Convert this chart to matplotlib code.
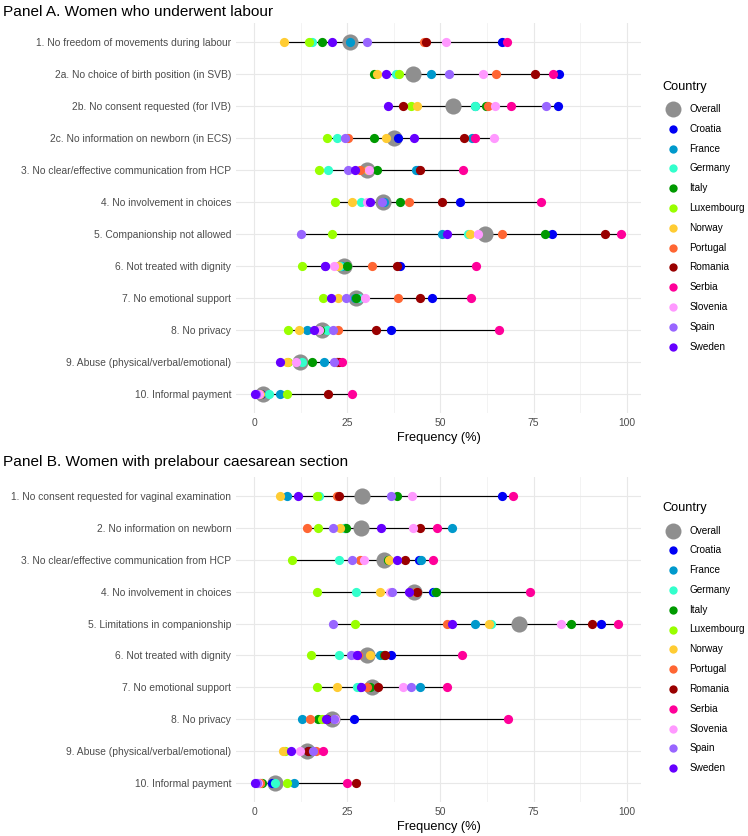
import numpy as np
import matplotlib
matplotlib.use("Agg")
import matplotlib.pyplot as plt
from matplotlib.lines import Line2D

plt.rcParams['font.family'] = ['Liberation Sans', 'DejaVu Sans']

# ---------------- data ----------------
countries = ["Overall", "Croatia", "France", "Germany", "Italy", "Luxembourg", "Norway",
             "Portugal", "Romania", "Serbia", "Slovenia", "Spain", "Sweden"]
colors = ["#8f8f8f", "#0000f5", "#0099cc", "#33ffcc", "#009900", "#99ff00", "#ffcc33",
          "#ff6633", "#990000", "#ff0099", "#ff99ff", "#9966ff", "#6600ff"]

labels_a = [
    "1. No freedom of movements during labour",
    "2a. No choice of birth position (in SVB)",
    "2b. No consent requested (for IVB)",
    "2c. No information on newborn (in ECS)",
    "3. No clear/effective communication from HCP",
    "4. No involvement in choices",
    "5. Companionship not allowed",
    "6. Not treated with dignity",
    "7. No emotional support",
    "8. No privacy",
    "9. Abuse (physical/verbal/emotional)",
    "10. Informal payment",
]
overall_a    = [25.7, 42.6, 53.4, 37.5, 30.3, 34.6, 62.0, 24.0, 27.2, 18.3, 12.4, 2.4]
croatia_a    = [66.6, 81.8, 81.6, 38.6, 43.9, 55.3, 79.9, 39.1, 47.6, 36.7, 22.3, 1.8]
france_a     = [25.7, 47.5, 59.2, 58.5, 43.5, 34.8, 50.5, 23.5, 27.0, 14.2, 18.6, 6.9]
germany_a    = [15.6, 38.0, 59.4, 22.2, 19.7, 28.6, 57.5, 23.0, 28.1, 19.6, 12.7, 4.0]
italy_a      = [18.1, 32.2, 62.1, 32.2, 32.9, 39.1, 78.2, 24.8, 27.4, 17.6, 15.4, 1.5]
luxembourg_a = [14.8, 38.9, 42.1, 19.6, 17.5, 21.8, 20.8, 12.9, 18.5, 9.0, 9.1, 8.8]
norway_a     = [7.9, 32.9, 43.7, 35.3, 30.5, 26.2, 57.9, 22.6, 22.6, 12.0, 8.7, 1.5]
portugal_a   = [45.7, 64.9, 62.8, 25.3, 28.4, 41.5, 66.6, 31.6, 38.7, 22.6, 22.3, 1.2]
romania_a    = [46.1, 75.3, 39.9, 56.3, 44.6, 50.3, 94.3, 38.4, 44.6, 32.6, 22.8, 19.8]
serbia_a     = [67.9, 80.3, 69.0, 59.4, 56.1, 76.9, 98.6, 59.6, 58.2, 65.7, 23.5, 26.2]
slovenia_a   = [51.5, 61.4, 64.7, 64.4, 30.7, 30.3, 60.2, 21.3, 29.7, 17.4, 11.2, 1.3]
spain_a      = [30.4, 52.2, 78.3, 24.4, 25.3, 34.3, 12.6, 18.9, 24.6, 21.1, 21.5, 0.5]
sweden_a     = [21.0, 35.5, 35.8, 42.8, 27.0, 31.2, 51.8, 18.9, 20.6, 16.0, 7.0, 0.2]

labels_b = [
    "1. No consent requested for vaginal examination",
    "2. No information on newborn",
    "3. No clear/effective communication from HCP",
    "4. No involvement in choices",
    "5. Limitations in companionship",
    "6. Not treated with dignity",
    "7. No emotional support",
    "8. No privacy",
    "9. Abuse (physical/verbal/emotional)",
    "10. Informal payment",
]
overall_b    = [28.9, 28.7, 34.8, 42.8, 71.2, 30.4, 31.5, 20.8, 14.1, 5.5]
croatia_b    = [66.5, 24.4, 44.3, 48.1, 93.0, 36.7, 28.4, 26.8, 14.5, 4.7]
france_b     = [8.7, 53.1, 44.7, 48.5, 59.4, 33.8, 44.6, 12.8, 15.0, 10.7]
germany_b    = [17.5, 24.1, 22.7, 27.2, 63.5, 22.7, 27.7, 19.5, 15.5, 5.5]
italy_b      = [38.4, 24.6, 36.0, 48.9, 85.1, 34.8, 31.0, 17.0, 15.0, 2.0]
luxembourg_b = [16.9, 17.0, 10.2, 16.9, 27.1, 15.3, 16.9, 18.1, 8.3, 8.7]
norway_b     = [7.0, 23.0, 36.2, 33.8, 63.0, 31.1, 22.1, 19.3, 7.8, 1.5]
portugal_b   = [22.1, 14.2, 28.5, 43.5, 51.7, 27.8, 30.2, 14.9, 16.7, 1.5]
romania_b    = [22.7, 44.6, 40.6, 43.8, 90.7, 35.1, 33.1, 19.6, 14.3, 27.3]
serbia_b     = [69.5, 49.2, 47.9, 74.1, 97.7, 55.8, 51.8, 68.1, 18.5, 25.0]
slovenia_b   = [42.4, 42.7, 29.5, 36.5, 82.4, 27.0, 40.0, 21.6, 12.3, 1.1]
spain_b      = [36.8, 21.1, 26.3, 36.9, 21.1, 26.1, 42.1, 21.4, 15.8, 0.8]
sweden_b     = [11.8, 33.9, 38.2, 41.5, 53.2, 27.6, 28.6, 19.2, 9.8, 0.1]

series_a = [overall_a, croatia_a, france_a, germany_a, italy_a, luxembourg_a, norway_a,
            portugal_a, romania_a, serbia_a, slovenia_a, spain_a, sweden_a]
series_b = [overall_b, croatia_b, france_b, germany_b, italy_b, luxembourg_b, norway_b,
            portugal_b, romania_b, serbia_b, slovenia_b, spain_b, sweden_b]

xticks = [0, 25, 50, 75, 100]

# ---------------- figure ----------------
W, H = 748, 836
fig = plt.figure(figsize=(W / 100, H / 100), dpi=100)


def px_axes(left, top, right, bottom):
    return fig.add_axes([left / W, 1 - bottom / H, (right - left) / W, (bottom - top) / H])


BASE = 9.2
TXT = "#4d4d4d"
GRID = "#e8e8e8"


def draw_panel(ax, labels, series):
    n = len(labels)
    ypos = np.arange(1, n + 1)
    data = np.array(series, dtype=float)
    lo = np.nanmin(data, axis=0)
    hi = np.nanmax(data, axis=0)
    ax.hlines(ypos, lo, hi, color="black", lw=0.85, zorder=2)
    for i, (name, col) in enumerate(zip(countries, colors)):
        s = 135 if name == "Overall" else 44
        ax.scatter(data[i], ypos, s=s, color=col, linewidths=0, zorder=3 + i)
    ax.set_xlim(-4.91, 103.85)
    ax.set_ylim(n + 0.6, 0.4)
    ax.set_yticks(ypos)
    ax.set_yticklabels(labels)
    ax.set_xticks(xticks)
    ax.set_xticklabels([str(t) for t in xticks])
    ax.set_xticks([12.5, 37.5, 62.5, 87.5], minor=True)
    ax.grid(True, which="major", color=GRID, lw=0.8, zorder=0)
    ax.grid(True, which="minor", axis="x", color="#f0f0f0", lw=0.55, zorder=0)
    ax.set_axisbelow(True)
    for sp in ax.spines.values():
        sp.set_visible(False)
    ax.tick_params(axis="both", which="both", length=0, labelsize=BASE * 0.8, labelcolor=TXT)
    ax.tick_params(axis="x", pad=3.6)
    ax.tick_params(axis="y", pad=3.4)
    ax.set_xlabel("Frequency (%)", fontsize=BASE, color="black", labelpad=3.0)


axA = px_axes(236, 23, 641, 413)
axB = px_axes(236, 477, 641, 802)
draw_panel(axA, labels_a, series_a)
draw_panel(axB, labels_b, series_b)

fig.text(3 / W, 1 - 11.5 / H, "Panel A. Women who underwent labour", fontsize=BASE * 1.2,
         ha="left", va="center", color="black")
fig.text(3 / W, 1 - 462 / H, "Panel B. Women with prelabour caesarean section",
         fontsize=BASE * 1.2, ha="left", va="center", color="black")


def draw_legend(title_y):
    fig.text(662.7 / W, 1 - title_y / H, "Country", fontsize=BASE, ha="left", va="center")
    y0 = title_y + 22.3
    for i, (name, col) in enumerate(zip(countries, colors)):
        y = y0 + i * 19.8
        ms = 11.5 if name == "Overall" else 6.0
        fig.add_artist(Line2D([672.7 / W], [1 - y / H], marker="o", markersize=ms,
                              markerfacecolor=col, markeredgewidth=0, linestyle="none",
                              transform=fig.transFigure))
        fig.text(689.3 / W, 1 - y / H, name, fontsize=BASE * 0.78, ha="left", va="center",
                 color="black")


draw_legend(86.7)
draw_legend(508.2)

fig.savefig("out.png", dpi=100, facecolor="white")
